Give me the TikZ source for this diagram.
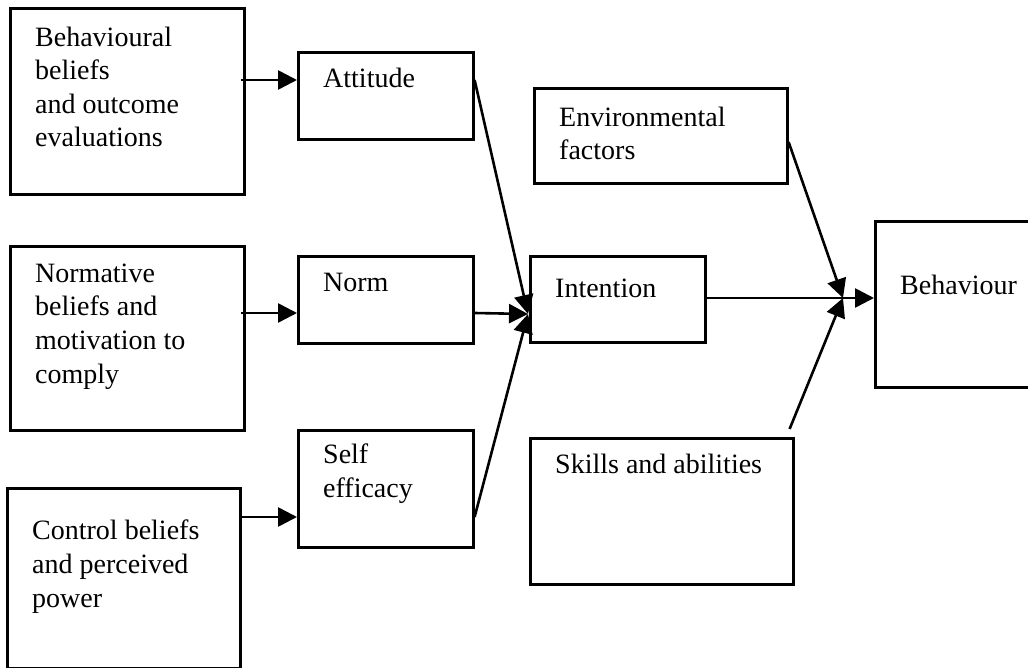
\documentclass[tikz,border=0pt]{standalone}
\usepackage{fontspec}
\setmainfont{Liberation Serif}
\usetikzlibrary{arrows.meta}

\tikzset{
  box/.style={draw, line width=2.6pt, anchor=north west, inner sep=0pt},
  lbl/.style={anchor=base west, align=left, inner sep=0pt, font=\fontsize{28}{33.6}\selectfont},
  arr/.style={line width=2.6pt, -{Triangle[length=19pt,width=19pt]}},
}

\begin{document}
\begin{tikzpicture}[x=1pt, y=-1pt]

\def\ya{80}; % attitude row
\def\yb{313}; % norm row
\def\yc{517}; % self efficacy row
\def\yd{298}; % intention row

\useasboundingbox (0,0) rectangle (1028,668);

% beliefs (text placed at the baseline of its last line)
\node[box, minimum width=234pt, minimum height=186pt] (bel) at (9,7) {};
\node[lbl] (belT) at (35,147) {Behavioural\\beliefs\\and outcome\\evaluations};
\node[box, minimum width=234pt, minimum height=184pt] (nob) at (9,245) {};
\node[lbl] (nobT) at (35,383) {Normative\\beliefs and\\motivation to\\comply};
\node[box, minimum width=233pt, minimum height=180pt] (ctl) at (6,487) {};
\node[lbl] (ctlT) at (32,607) {Control beliefs\\and perceived\\power};

% middle
\node[box, minimum width=175pt, minimum height=87pt] (att) at (297,51) {};
\node[lbl] (attT) at (323,88) {Attitude};
\node[box, minimum width=175pt, minimum height=87pt] (nrm) at (297,255) {};
\node[lbl] (nrmT) at (323,292) {Norm};
\node[box, minimum width=175pt, minimum height=117pt] (sef) at (297,429) {};
\node[lbl] (sefT) at (323,497) {Self\\efficacy};

% right side
\node[box, minimum width=253pt, minimum height=95pt] (env) at (533,87) {};
\node[lbl] (envT) at (559,160) {Environmental\\factors};
\node[box, minimum width=175pt, minimum height=86pt] (int) at (529,255) {};
\node[lbl] (intT) at (555,298) {Intention};
\node[box, minimum width=263pt, minimum height=146pt] (skl) at (529,437) {};
\node[lbl] (sklT) at (555,473) {Skills and abilities};
\node[box, minimum width=170pt, minimum height=166pt] (bhv) at (874,220) {};
\node[lbl] (bhvT) at (900,295) {Behaviour};

\coordinate (mI) at (528,314);
\coordinate (mB) at (843,\yd);

\draw[arr] ([xshift=-5pt]bel.east |- 0,\ya) -- (att.west |- 0,\ya);
\draw[arr] ([xshift=-5pt]nob.east |- 0,\yb) -- (nrm.west |- 0,\yb);
\draw[arr] (ctl.east |- 0,\yc) -- (sef.west |- 0,\yc);

\draw[arr] (att.east |- 0,\ya) -- (mI);
\draw[arr] (nrm.east |- 0,\yb) -- (mI);
\draw[arr] (sef.east |- 0,\yc) -- (mI);

\draw[arr] (env.east |- 0,142) -- (mB);
\draw[arr] ([shift={(-5pt,8pt)}]skl.north east) -- (mB);
\draw[arr] (int.east |- 0,\yd) -- (bhv.west |- 0,\yd);

\end{tikzpicture}
\end{document}
